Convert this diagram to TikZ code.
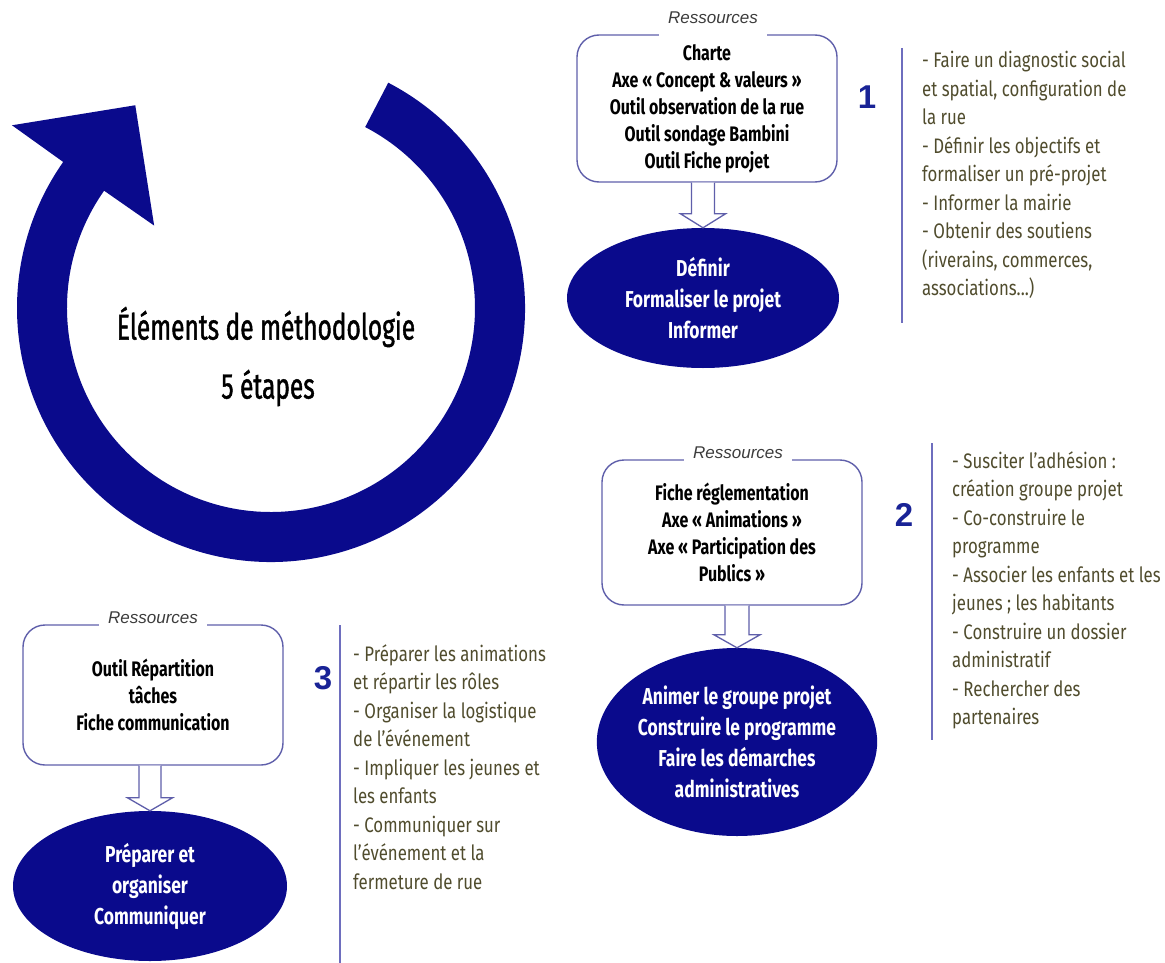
\documentclass[tikz,border=0pt]{standalone}
\usepackage{fontspec}
\setmainfont{Fira Sans}[FakeStretch=0.80, BoldFeatures={FakeStretch=0.76}]
\newfontfamily\arialfont{Liberation Sans}
\newfontfamily\titrefont{Fira Sans}[FakeStretch=0.68, FakeBold=1.2]
\usetikzlibrary{shapes.geometric,calc}
\definecolor{marine}{RGB}{10,10,140}
\definecolor{cadre}{RGB}{95,95,170}
\definecolor{filet}{RGB}{110,110,190}
\definecolor{chiffre}{RGB}{25,35,150}
\definecolor{gristexte}{RGB}{60,60,60}
\definecolor{kaki}{RGB}{80,76,45}

\begin{document}
\begin{tikzpicture}[
        x=1pt, y=-1pt,
        ressource/.style={draw=cadre, line width=1.4pt, rounded corners=22pt, minimum width=260pt, align=center,
                font=\fontsize{21}{27}\selectfont\bfseries}, % boites des ressources
        etiquette/.style={fill=white, inner xsep=9pt, minimum height=40pt, text=gristexte,
                font=\arialfont\itshape\fontsize{17}{17}\selectfont},
        etape/.style={ellipse, fill=marine, text=white, inner sep=0pt, align=center,
                font=\fontsize{23}{31}\selectfont\bfseries}, % les etapes
        fleche/.style={draw=cadre, fill=white, line width=1.3pt},
        numero/.style={text=chiffre, font=\arialfont\bfseries\fontsize{33}{33}\selectfont},
        actions/.style={anchor=north west, align=left, inner sep=0pt, text=kaki, font=\fontsize{21}{28.5}\selectfont},
        trait/.style={draw=filet, line width=1.8pt},
        titre/.style={font=\titrefont\fontsize{36}{36}\selectfont},
    ]
    \useasboundingbox (0,0) rectangle (1165,963);

    % le cercle avec sa fleche
    \coordinate (centre) at (271,308);
    \fill[marine] (centre) ++(-62.5:254) arc[start angle=-62.5, end angle=215.1, radius=254]
        -- ($(centre)+(215.2:317)$) -- ($(centre)+(236.2:244)$) -- ($(centre)+(215.2:143)$)
        -- ($(centre)+(215.1:204)$) arc[start angle=215.1, end angle=-62.5, radius=204] -- cycle;
    \node[titre] (titre) at (266,327) {Éléments de méthodologie};
    \node[titre] (etapes) at (268,388) {5 étapes};

    % etape 1
    \node[ressource, minimum height=147pt] (res1) at (707,108.5)
        {Charte\\Axe « Concept \& valeurs »\\Outil observation de la rue\\Outil sondage Bambini\\Outil Fiche projet};
    \node[etiquette] (lab1) at (713,18) {Ressources};
    \node[etape, minimum width=272pt, minimum height=140pt] (step1) at (703,298)
        {Définir\\Formaliser le projet\\Informer};
    \draw[fleche] let \p1=(res1.south), \p2=(step1.north) in
        (\x2-11.5pt,\y1) -- (\x2-11.5pt,\y2+14pt) -- (\x2-22.5pt,\y2+14pt) -- (\x2,\y2)
        -- (\x2+22.5pt,\y2+14pt) -- (\x2+11.5pt,\y2+14pt) -- (\x2+11.5pt,\y1);
    \node[numero] (n1) at (867,97) {1};
    \draw[trait] (902,48) -- (902,323);
    \node[actions] (act1) at (922,51) {- Faire un diagnostic social\\et spatial, configuration de\\la rue\\- Définir les objectifs et\\formaliser un pré-projet\\- Informer la mairie\\- Obtenir des soutiens\\(riverains, commerces,\\associations...)};

    % etape 2
    \node[ressource, minimum height=145pt] (res2) at (732,532.5)
        {Fiche réglementation\\Axe « Animations »\\Axe « Participation des\\Publics »};
    \node[etiquette] (lab2) at (738,453) {Ressources};
    \node[etape, minimum width=280pt, minimum height=188pt] (step2) at (737,742)
        {Animer le groupe projet\\Construire le programme\\Faire les démarches\\administratives};
    \draw[fleche] let \p1=(res2.south), \p2=(step2.north) in
        (\x2-12pt,\y1) -- (\x2-12pt,\y2+13pt) -- (\x2-23pt,\y2+13pt) -- (\x2,\y2)
        -- (\x2+23pt,\y2+13pt) -- (\x2+12pt,\y2+13pt) -- (\x2+12pt,\y1);
    \node[numero] (n2) at (904,515) {2};
    \draw[trait] (932,443) -- (932,740);
    \node[actions] (act2) at (952,451) {- Susciter l'adhésion :\\création groupe projet\\- Co-construire le\\programme\\- Associer les enfants et les\\jeunes ; les habitants\\- Construire un dossier\\administratif\\- Rechercher des\\partenaires};

    % etape 3
    \node[ressource, minimum height=140pt] (res3) at (153,695)
        {Outil Répartition\\tâches\\Fiche communication};
    \node[etiquette] (lab3) at (153,618) {Ressources};
    \node[etape, minimum width=274pt, minimum height=150pt] (step3) at (150,886)
        {Préparer et\\organiser\\Communiquer};
    \draw[fleche] let \p1=(res3.south), \p2=(step3.north) in
        (\x2-11pt,\y1) -- (\x2-11pt,\y2+13pt) -- (\x2-22.5pt,\y2+13pt) -- (\x2,\y2)
        -- (\x2+22.5pt,\y2+13pt) -- (\x2+11pt,\y2+13pt) -- (\x2+11pt,\y1);
    \node[numero] (n3) at (323,678) {3};
    \draw[trait] (340,625) -- (340,963);
    \node[actions] (act3) at (353,644) {- Préparer les animations\\et répartir les rôles\\- Organiser la logistique\\de l'événement\\- Impliquer les jeunes et\\les enfants\\- Communiquer sur\\l'événement et la\\fermeture de rue};
\end{tikzpicture}
\end{document}
